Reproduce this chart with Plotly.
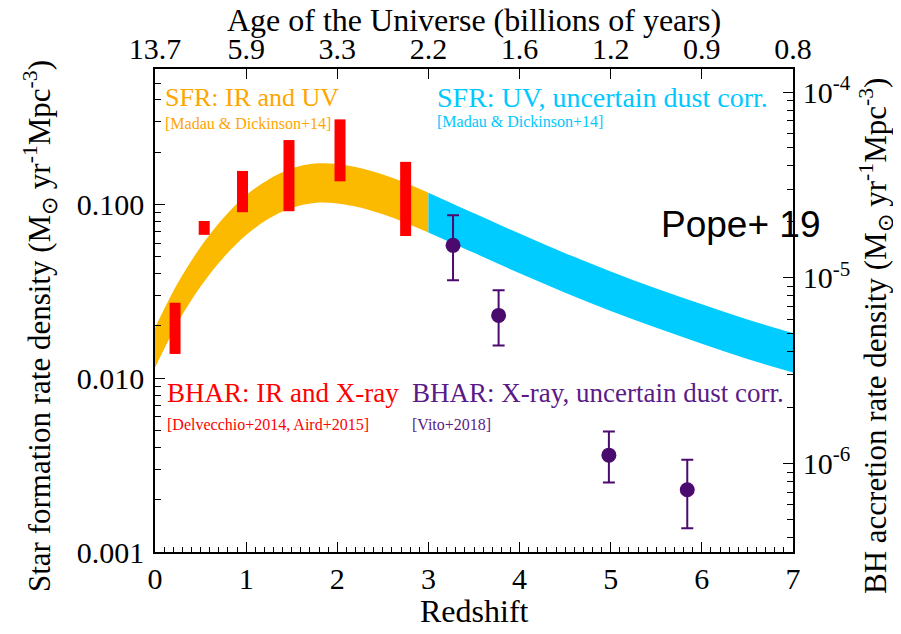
import plotly.graph_objects as go

# ── Data ──────────────────────────────────────────────────────────────────────

# SFR band (Madau & Dickinson 14): redshift, upper and lower edge
band_z = [0.0, 0.25, 0.5, 0.75, 1.0, 1.25, 1.5, 1.75, 2.0, 2.25, 2.5, 2.75, 3.0,
          3.5, 4.0, 4.5, 5.0, 5.5, 6.0, 6.5, 7.0]
band_hi = [0.0195, 0.0353, 0.0569, 0.0835, 0.113, 0.140, 0.161, 0.172, 0.171, 0.162,
           0.149, 0.133, 0.117, 0.089, 0.068, 0.0525, 0.0412, 0.0329, 0.0267, 0.0218, 0.0182]
band_lo = [0.0115, 0.0209, 0.0337, 0.0494, 0.0667, 0.0830, 0.0954, 0.102, 0.1015, 0.0961,
           0.0878, 0.0784, 0.0691, 0.0527, 0.0402, 0.0311, 0.0244, 0.0195, 0.0158, 0.0129, 0.0108]
z_split = 3.0  # IR+UV below, UV only above

# BHAR: IR and X-ray (red boxes)
bhar_ir_z = [0.22, 0.54, 0.96, 1.47, 2.03, 2.75]
bhar_ir_hi = [0.0272, 0.0804, 0.156, 0.235, 0.309, 0.176]
bhar_ir_lo = [0.0138, 0.0669, 0.0903, 0.0915, 0.136, 0.0659]

# BHAR: X-ray (Vito+2018)
bhar_x_z = [3.27, 3.77, 4.98, 5.84]
bhar_x_val = [0.0582, 0.0230, 0.00361, 0.00228]
bhar_x_hi = [0.0867, 0.0321, 0.00494, 0.00340]
bhar_x_lo = [0.0366, 0.01545, 0.00251, 0.00137]

# axes
z_ticks = [0, 1, 2, 3, 4, 5, 6, 7]
age_labels = ["13.7", "5.9", "3.3", "2.2", "1.6", "1.2", "0.9", "0.8"]
sfr_ticks = [0.001, 0.01, 0.1]
sfr_labels = ["0.001", "0.010", "0.100"]
bh_ticks = [1e-6, 1e-5, 1e-4]
bh_labels = ["10<sup>-6</sup>", "10<sup>-5</sup>", "10<sup>-4</sup>"]

ORANGE = "#FBB900"
CYAN = "#00CCFF"
RED = "#FF0000"
PURPLE = "#4B0A6E"
SERIF = "Liberation Serif"


def split_band(keep):
    idx = [i for i, z in enumerate(band_z) if keep(z)]
    return ([band_z[i] for i in idx], [band_lo[i] for i in idx], [band_hi[i] for i in idx])


fig = go.Figure()

for keep, color in [(lambda z: z <= z_split, ORANGE), (lambda z: z >= z_split, CYAN)]:
    zz, lo, hi = split_band(keep)
    fig.add_trace(go.Scatter(x=zz, y=lo, mode="lines", line=dict(width=0, shape="spline"),
                             showlegend=False, hoverinfo="skip"))
    fig.add_trace(go.Scatter(x=zz, y=hi, mode="lines", line=dict(width=0, shape="spline"),
                             fill="tonexty", fillcolor=color, showlegend=False, hoverinfo="skip"))

# red boxes as thick vertical segments
bx, by = [], []
for z, lo, hi in zip(bhar_ir_z, bhar_ir_lo, bhar_ir_hi):
    bx += [z, z, None]
    by += [lo, hi, None]
fig.add_trace(go.Scatter(x=bx, y=by, mode="lines", line=dict(color=RED, width=11),
                         showlegend=False, hoverinfo="skip"))

fig.add_trace(go.Scatter(
    x=bhar_x_z, y=bhar_x_val, mode="markers",
    marker=dict(color=PURPLE, size=15),
    error_y=dict(type="data", symmetric=False,
                 array=[h - v for h, v in zip(bhar_x_hi, bhar_x_val)],
                 arrayminus=[v - l for v, l in zip(bhar_x_val, bhar_x_lo)],
                 color=PURPLE, thickness=2, width=6),
    showlegend=False,
))

# invisible traces so the top and right axes get drawn
fig.add_trace(go.Scatter(x=z_ticks, y=[0.01] * len(z_ticks), xaxis="x2", mode="markers",
                         marker_opacity=0, showlegend=False, hoverinfo="skip"))
fig.add_trace(go.Scatter(x=z_ticks, y=[1e-5] * len(z_ticks), yaxis="y2", mode="markers",
                         marker_opacity=0, showlegend=False, hoverinfo="skip"))

axis_common = dict(showline=True, linecolor="black", linewidth=1.5, showgrid=False,
                   zeroline=False, ticks="inside", tickcolor="black", ticklen=10,
                   tickfont=dict(family=SERIF, size=30, color="black"))

sfr_minor = [m * 10 ** e for e in (-3, -2, -1) for m in range(2, 10)]
bh_minor = [m * 10 ** e for e in (-7, -6, -5, -4) for m in range(2, 10)]

# page body adds an 8px offset, so the figure is 8px smaller than the window
fig.update_layout(
    width=893, height=626,
    margin=dict(l=147, r=108, t=61, b=82),
    plot_bgcolor="white", paper_bgcolor="white",
    xaxis=dict(range=[0, 7], tickvals=z_ticks, ticklabelstandoff=-1,
               minor=dict(dtick=0.1, ticks="inside", ticklen=5, tickcolor="black"),
               **axis_common),
    xaxis2=dict(range=[0, 7], overlaying="x", side="top", tickvals=z_ticks,
                ticktext=age_labels, ticklabelstandoff=-4, **axis_common),
    yaxis=dict(type="log", range=[-3, -0.22], tickvals=sfr_ticks, ticktext=sfr_labels,
               ticklabelstandoff=3,
               minor=dict(tickvals=sfr_minor, ticks="inside", ticklen=6, tickcolor="black"),
               **axis_common),
    yaxis2=dict(type="log", range=[-6.476, -3.876], overlaying="y", side="right",
                tickvals=bh_ticks, ticktext=bh_labels, ticklabelstandoff=2,
                minor=dict(tickvals=bh_minor, ticks="inside", ticklen=6, tickcolor="black"),
                **axis_common),
)


def px_x(px):
    return (px - 155) / 638


def px_y(py):
    return 1 - (py - 69) / 483


labels = [
    ("SFR: IR and UV", 163, 98, 26, "#FFA500"),
    ("[Madau & Dickinson+14]", 163, 123, 16, "#FFA500"),
    ("SFR: UV, uncertain dust corr.", 435, 98, 28, "#00C8FF"),
    ("[Madau & Dickinson+14]", 435, 122, 16, "#00C8FF"),
    ("BHAR: IR and X-ray", 165, 393, 27, RED),
    ("[Delvecchio+2014, Aird+2015]", 165, 424, 16, RED),
    ("BHAR: X-ray, uncertain dust corr.", 410, 393, 27, "#5A1A88"),
    ("[Vito+2018]", 410, 424, 16, "#5A1A88"),
]
for text, x, y, size, color in labels:
    fig.add_annotation(text=text, xref="paper", yref="paper", x=px_x(x), y=px_y(y),
                       xanchor="left", yanchor="middle", showarrow=False,
                       font=dict(family=SERIF, size=size, color=color))

fig.add_annotation(text="Pope+ 19", xref="paper", yref="paper", x=px_x(659), y=px_y(225),
                   xanchor="left", yanchor="middle", showarrow=False,
                   font=dict(family="Liberation Sans", size=37, color="black"))

title_font = dict(family=SERIF, size=32, color="black")
fig.add_annotation(text="Redshift", xref="paper", yref="paper", x=px_x(474), y=px_y(611),
                   showarrow=False, xanchor="center", yanchor="middle", font=title_font)
fig.add_annotation(text="Age of the Universe (billions of years)", xref="paper", yref="paper",
                   x=px_x(474), y=px_y(20), showarrow=False, xanchor="center",
                   yanchor="middle", font=title_font)
fig.add_annotation(text="Star formation rate density (M<sub>⊙</sub> yr<sup>-1</sup>Mpc<sup>-3</sup>)",
                   xref="paper", yref="paper", x=px_x(40), y=px_y(326), textangle=-90,
                   showarrow=False, xanchor="center", yanchor="middle",
                   font=dict(family=SERIF, size=31, color="black"))
fig.add_annotation(text="BH accretion rate density (M<sub>⊙</sub> yr<sup>-1</sup>Mpc<sup>-3</sup>)",
                   xref="paper", yref="paper", x=px_x(876), y=px_y(336), textangle=-90,
                   showarrow=False, xanchor="center", yanchor="middle",
                   font=dict(family=SERIF, size=31, color="black"))

fig.write_html("out.html")
